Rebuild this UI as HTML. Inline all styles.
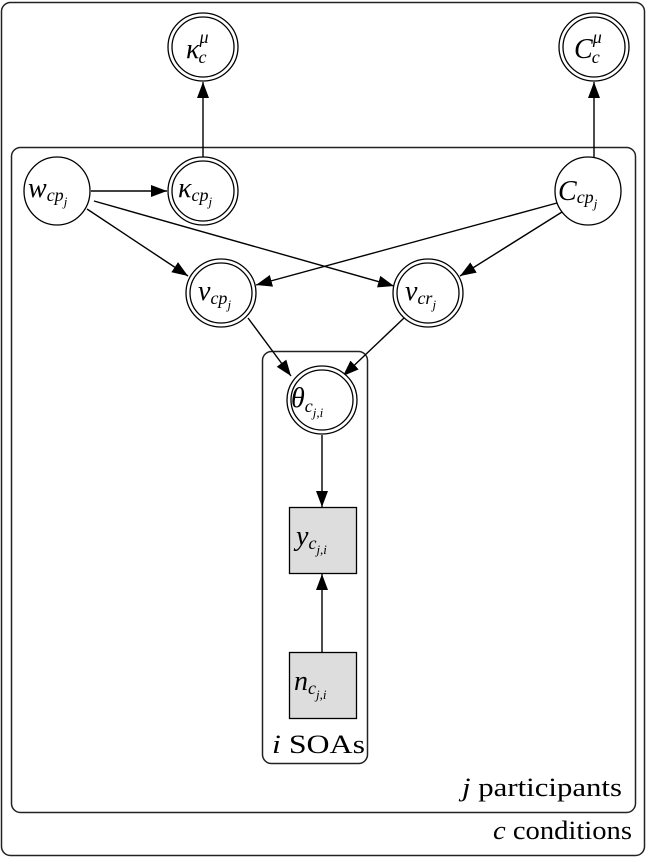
<!DOCTYPE html>
<html><head><style>body{margin:0;background:#fff}svg{display:block}</style></head><body>
<svg width="646" height="858" viewBox="0 0 646 858" xmlns="http://www.w3.org/2000/svg" font-family="Liberation Serif, serif" font-style="italic">
<defs>
<marker id="b" viewBox="0 0 16 12" markerWidth="16" markerHeight="13" refX="16" refY="6" orient="auto" markerUnits="userSpaceOnUse"><path d="M0,0 L16,6 L0,12 Z" fill="#000"/></marker></defs>
<g fill="none" stroke="#222" stroke-width="1.5">
<rect x="1.5" y="2.5" width="643" height="853" rx="9"/>
<rect x="11.5" y="147.5" width="624" height="665" rx="9"/>
<rect x="262.5" y="351.5" width="105" height="412" rx="9"/>
</g>
<g stroke="#000" stroke-width="1.4" fill="none">
<line x1="203" y1="157" x2="203" y2="82" marker-end="url(#b)"/>
<line x1="594" y1="157" x2="594" y2="82" marker-end="url(#b)"/>
<line x1="91" y1="191" x2="167" y2="191" marker-end="url(#b)"/>
<line x1="87" y1="209" x2="188" y2="276" marker-end="url(#b)"/>
<line x1="94" y1="201" x2="394" y2="286" marker-end="url(#b)"/>
<line x1="557" y1="203" x2="256" y2="285" marker-end="url(#b)"/>
<line x1="562" y1="212" x2="460" y2="276" marker-end="url(#b)"/>
<line x1="248" y1="318" x2="291" y2="376" marker-end="url(#b)"/>
<line x1="404" y1="318" x2="343" y2="376" marker-end="url(#b)"/>
<line x1="322" y1="435" x2="322" y2="507" marker-end="url(#b)"/>
<line x1="322" y1="652" x2="322" y2="574" marker-end="url(#b)"/>
</g>
<g fill="#fff" stroke="#000" stroke-width="1.3">
<ellipse cx="203" cy="47" rx="35" ry="34"/><ellipse cx="203" cy="47" rx="31" ry="30"/>
<ellipse cx="594" cy="47" rx="35" ry="34"/><ellipse cx="594" cy="47" rx="31" ry="30"/>
<ellipse cx="57" cy="191" rx="33" ry="34"/>
<ellipse cx="203" cy="191" rx="35" ry="34"/><ellipse cx="203" cy="191" rx="31" ry="30"/>
<ellipse cx="588" cy="191" rx="33" ry="34"/>
<ellipse cx="221" cy="293" rx="35" ry="34"/><ellipse cx="221" cy="293" rx="31" ry="30"/>
<ellipse cx="428" cy="293" rx="35" ry="34"/><ellipse cx="428" cy="293" rx="31" ry="30"/>
<ellipse cx="322" cy="400" rx="35" ry="34"/><ellipse cx="322" cy="400" rx="31" ry="30"/>
<rect x="289.5" y="507.5" width="67" height="66" fill="#ddd"/>
<rect x="289.5" y="652.5" width="67" height="66" fill="#ddd"/>
</g>
<g fill="#000" font-size="28">
<text x="186" y="58">κ<tspan font-size="18" dy="-15">μ</tspan><tspan font-size="18" dx="-10" dy="20">c</tspan></text>
<text x="574" y="58">C<tspan font-size="18" dy="-15">μ</tspan><tspan font-size="18" dx="-10" dy="20">c</tspan></text>
<text x="28" y="197">w<tspan font-size="18" dy="4">cp</tspan><tspan font-size="13" dy="5">j</tspan></text>
<text x="178" y="197">κ<tspan font-size="18" dy="4">cp</tspan><tspan font-size="13" dy="5">j</tspan></text>
<text x="558" y="200">C<tspan font-size="18" dy="3">cp</tspan><tspan font-size="13" dy="5">j</tspan></text>
<text x="198" y="300">v<tspan font-size="18" dy="4">cp</tspan><tspan font-size="13" dy="5">j</tspan></text>
<text x="405" y="300">v<tspan font-size="18" dy="4">cr</tspan><tspan font-size="13" dy="5">j</tspan></text>
<text x="291" y="407">θ<tspan font-size="18" dy="5">c</tspan><tspan font-size="13" dy="5">j,i</tspan></text>
<text x="296" y="545">y<tspan font-size="18" dy="4">c</tspan><tspan font-size="13" dy="5">j,i</tspan></text>
<text x="294" y="690">n<tspan font-size="18" dy="4">c</tspan><tspan font-size="13" dy="5">j,i</tspan></text>
</g>
<g fill="#000" font-size="26" font-style="normal">
<text x="272" y="753" textLength="93" lengthAdjust="spacingAndGlyphs"><tspan font-style="italic">i</tspan> SOAs</text>
<text x="462" y="796" textLength="160" lengthAdjust="spacingAndGlyphs"><tspan font-style="italic">j</tspan> participants</text>
<text x="493" y="839" textLength="139" lengthAdjust="spacingAndGlyphs"><tspan font-style="italic">c</tspan> conditions</text>
</g>
</svg>
</body></html>
